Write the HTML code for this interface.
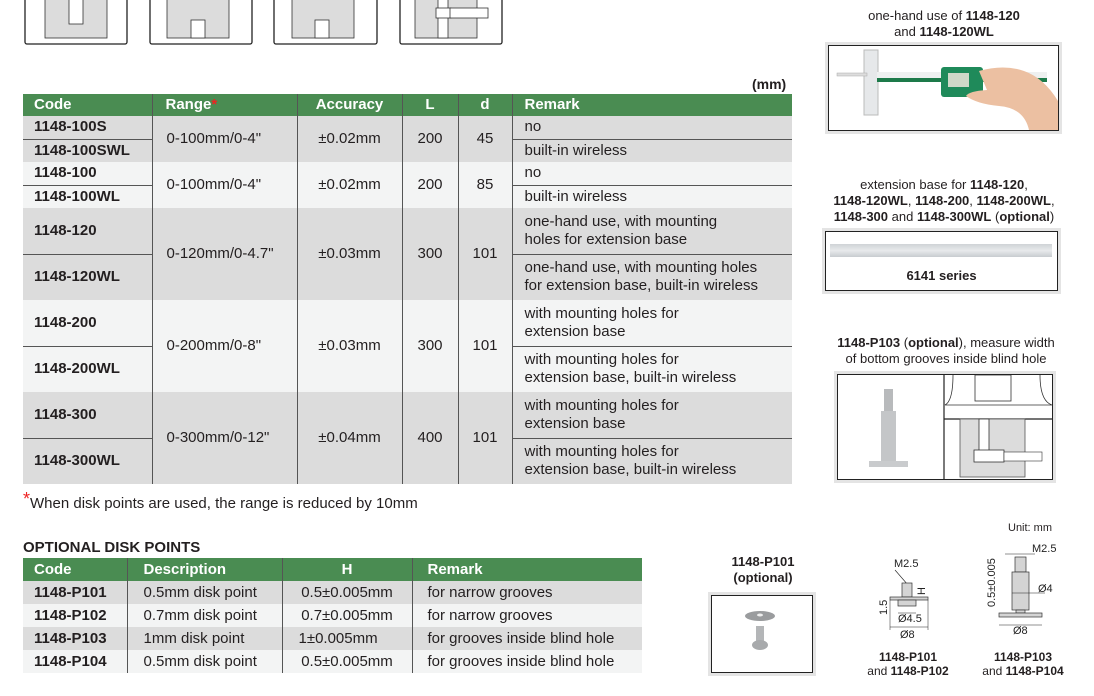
<!DOCTYPE html>
<html><head><meta charset="utf-8"><style>
body{margin:0;width:1094px;height:696px;background:#fff;position:relative;overflow:hidden;font-family:"Liberation Sans",Arial,sans-serif;color:#231f20}
.a{position:absolute}
table{border-collapse:collapse;position:absolute;table-layout:fixed}
td,th{padding:0;font-size:15px;line-height:18px}
th{background:#4a8c52;color:#fff;font-weight:bold;text-align:left}
.g td{background:#dcdcdc}.l td{background:#f3f4f4}
.vb{border-left:1.5px solid #555}
.sep td.s{border-top:1.5px solid #555}
.c{font-weight:bold;padding-left:11px}
.cen{text-align:center}
.box{position:absolute;border:1.5px solid #222;box-shadow:0 0 0 3px #e4e4e4;background:#fff}
.t{position:absolute;font-size:13px;text-align:center;line-height:16px}
</style></head><body>

<!-- top thumbnails -->
<svg class="a" style="left:0;top:0" width="520" height="50">
<g fill="#fff" stroke="#222" stroke-width="1.3">
<rect x="25" y="-5" width="102" height="49" rx="2"/><rect x="150" y="-5" width="102" height="49" rx="2"/><rect x="274" y="-5" width="103" height="49" rx="2"/><rect x="400" y="-5" width="102" height="49" rx="2"/></g>
<g fill="#dcdcdc" stroke="#333" stroke-width="0.8">
<rect x="45" y="-2" width="62" height="40"/><rect x="167" y="-2" width="62" height="40"/><rect x="292" y="-2" width="62" height="40"/><rect x="415" y="-2" width="62" height="40"/></g>
<g fill="#fff" stroke="#333" stroke-width="0.8">
<rect x="69" y="-2" width="14" height="26"/><rect x="191" y="20" width="14" height="18"/><rect x="315" y="20" width="14" height="18"/><rect x="438" y="-2" width="10" height="40"/><rect x="436" y="8" width="15" height="10"/><rect x="450" y="8" width="38" height="10"/></g>
</svg>

<div class="a" style="left:752px;top:76px;font-size:14px;font-weight:bold">(mm)</div>

<table style="left:23px;top:94px;width:769px">
<colgroup><col style="width:129px"><col style="width:145px"><col style="width:105px"><col style="width:56px"><col style="width:54px"><col style="width:280px"></colgroup>
<tr style="height:22px"><th style="padding-left:11px">Code</th><th class="vb" style="padding-left:13px">Range<span style="color:#e22">*</span></th><th class="vb cen">Accuracy</th><th class="vb cen">L</th><th class="vb cen">d</th><th class="vb" style="padding-left:12px">Remark</th></tr>
<tr class="g" style="height:23px"><td class="c">1148-100S</td><td class="vb" rowspan="2" style="padding-left:14px">0-100mm/0-4"</td><td class="vb cen" rowspan="2">±0.02mm</td><td class="vb cen" rowspan="2">200</td><td class="vb cen" rowspan="2">45</td><td class="vb" style="padding-left:12px">no</td></tr>
<tr class="g sep" style="height:23px"><td class="c s">1148-100SWL</td><td class="vb s" style="padding-left:12px">built-in wireless</td></tr>
<tr class="l" style="height:23px"><td class="c">1148-100</td><td class="vb" rowspan="2" style="padding-left:14px">0-100mm/0-4"</td><td class="vb cen" rowspan="2">±0.02mm</td><td class="vb cen" rowspan="2">200</td><td class="vb cen" rowspan="2">85</td><td class="vb" style="padding-left:12px">no</td></tr>
<tr class="l sep" style="height:23px"><td class="c s">1148-100WL</td><td class="vb s" style="padding-left:12px">built-in wireless</td></tr>
<tr class="g" style="height:46px"><td class="c">1148-120</td><td class="vb" rowspan="2" style="padding-left:14px">0-120mm/0-4.7"</td><td class="vb cen" rowspan="2">±0.03mm</td><td class="vb cen" rowspan="2">300</td><td class="vb cen" rowspan="2">101</td><td class="vb" style="padding-left:12px">one-hand use, with mounting<br>holes for extension base</td></tr>
<tr class="g sep" style="height:46px"><td class="c s">1148-120WL</td><td class="vb s" style="padding-left:12px">one-hand use, with mounting holes<br>for extension base, built-in wireless</td></tr>
<tr class="l" style="height:46px"><td class="c">1148-200</td><td class="vb" rowspan="2" style="padding-left:14px">0-200mm/0-8"</td><td class="vb cen" rowspan="2">±0.03mm</td><td class="vb cen" rowspan="2">300</td><td class="vb cen" rowspan="2">101</td><td class="vb" style="padding-left:12px">with mounting holes for<br>extension base</td></tr>
<tr class="l sep" style="height:46px"><td class="c s">1148-200WL</td><td class="vb s" style="padding-left:12px">with mounting holes for<br>extension base, built-in wireless</td></tr>
<tr class="g" style="height:46px"><td class="c">1148-300</td><td class="vb" rowspan="2" style="padding-left:14px">0-300mm/0-12"</td><td class="vb cen" rowspan="2">±0.04mm</td><td class="vb cen" rowspan="2">400</td><td class="vb cen" rowspan="2">101</td><td class="vb" style="padding-left:12px">with mounting holes for<br>extension base</td></tr>
<tr class="g sep" style="height:46px"><td class="c s">1148-300WL</td><td class="vb s" style="padding-left:12px">with mounting holes for<br>extension base, built-in wireless</td></tr>
</table>

<div class="a" style="left:23px;top:492px;font-size:15px"><span style="color:#e22;font-size:18px;position:relative;top:-3px">*</span>When disk points are used, the range is reduced by 10mm</div>
<div class="a" style="left:23px;top:539px;font-size:15px;font-weight:bold">OPTIONAL DISK POINTS</div>

<table style="left:23px;top:558px;width:619px">
<colgroup><col style="width:104px"><col style="width:155px"><col style="width:130px"><col style="width:230px"></colgroup>
<tr style="height:23px"><th style="padding-left:11px">Code</th><th class="vb" style="padding-left:16px">Description</th><th class="vb cen">H</th><th class="vb" style="padding-left:15px">Remark</th></tr>
<tr class="g" style="height:23px"><td class="c">1148-P101</td><td class="vb" style="padding-left:16px">0.5mm disk point</td><td class="vb cen">0.5±0.005mm</td><td class="vb" style="padding-left:15px">for narrow grooves</td></tr>
<tr class="l" style="height:23px"><td class="c">1148-P102</td><td class="vb" style="padding-left:16px">0.7mm disk point</td><td class="vb cen">0.7±0.005mm</td><td class="vb" style="padding-left:15px">for narrow grooves</td></tr>
<tr class="g" style="height:23px"><td class="c">1148-P103</td><td class="vb" style="padding-left:16px">1mm disk point</td><td class="vb" style="padding-left:16px">1±0.005mm</td><td class="vb" style="padding-left:15px">for grooves inside blind hole</td></tr>
<tr class="l" style="height:23px"><td class="c">1148-P104</td><td class="vb" style="padding-left:16px">0.5mm disk point</td><td class="vb cen">0.5±0.005mm</td><td class="vb" style="padding-left:15px">for grooves inside blind hole</td></tr>
</table>

<!-- right panels -->
<div class="t" style="left:826px;top:8px;width:236px">one-hand use of <b>1148-120</b><br>and <b>1148-120WL</b></div>
<div class="box" style="left:828px;top:45px;width:229px;height:84px">
<svg width="229" height="84">
<rect x="35" y="4" width="14" height="65" fill="#e6e8ea" stroke="#bbb"/>
<rect x="8" y="27" width="30" height="3" fill="#ddd" stroke="#aaa" stroke-width=".5"/>
<rect x="48" y="26" width="170" height="9" fill="#eef0f0"/>
<rect x="48" y="32" width="170" height="4" fill="#1d7a4a"/>
<rect x="112" y="21" width="42" height="30" rx="3" fill="#1f8a5a"/>
<rect x="119" y="27" width="21" height="14" fill="#cfd8c8"/>
<path d="M150 25 Q175 18 195 25 Q215 32 229 55 L229 84 L200 84 Q195 62 170 60 Q148 58 137 50 Q140 45 158 44 Z" fill="#ecc0a2"/>
</svg></div>

<div class="t" style="left:812px;top:177px;width:264px">extension base for <b>1148-120</b>,<br><b>1148-120WL</b>, <b>1148-200</b>, <b>1148-200WL</b>,<br><b>1148-300</b> and <b>1148-300WL</b> (<b>optional</b>)</div>
<div class="box" style="left:825px;top:231px;width:231px;height:58px">
<div class="a" style="left:4px;top:12px;width:222px;height:13px;background:linear-gradient(#cfd3d6,#e8eaec,#c8ccd0)"></div>
<div class="a" style="left:0;top:36px;width:231px;text-align:center;font-weight:bold;font-size:13px">6141 series</div></div>

<div class="t" style="left:818px;top:335px;width:256px"><b>1148-P103</b> (<b>optional</b>), measure width<br>of bottom grooves inside blind hole</div>
<div class="box" style="left:837px;top:374px;width:214px;height:104px">
<svg width="214" height="104">
<rect x="46" y="14" width="9" height="22" fill="#b8babc"/><rect x="43" y="36" width="15" height="50" fill="#c4c6c8"/><rect x="31" y="86" width="39" height="6" fill="#c9cbcd"/>
<line x1="106" y1="0" x2="106" y2="104" stroke="#222" stroke-width="1.2"/>
<line x1="106" y1="44" x2="214" y2="44" stroke="#222" stroke-width="1.2"/>
<rect x="122" y="44" width="65" height="58" fill="#dcdcdc" stroke="#555" stroke-width=".8"/>
<path d="M115 0 Q115 26 107 30 L214 30 Q202 26 202 0" fill="none" stroke="#333" stroke-width=".8"/>
<rect x="137" y="0" width="36" height="26" fill="#fff" stroke="#333" stroke-width=".8"/>
<rect x="141" y="44" width="10" height="40" fill="#fff" stroke="#333" stroke-width=".8"/>
<rect x="136" y="75" width="30" height="12" fill="#fff" stroke="#333" stroke-width=".8"/>
<rect x="166" y="77" width="38" height="9" fill="#fff" stroke="#333" stroke-width=".6"/>
</svg></div>

<!-- bottom right -->
<div class="t" style="left:713px;top:554px;width:100px;font-weight:bold">1148-P101<br>(optional)</div>
<div class="box" style="left:711px;top:595px;width:100px;height:76px">
<svg width="100" height="76"><ellipse cx="48" cy="20" rx="15" ry="5" fill="#9a9c9e"/><ellipse cx="48" cy="19" rx="3" ry="1.5" fill="#eee"/><rect x="44" y="30" width="8" height="17" fill="#b4b6b8"/><ellipse cx="48" cy="49" rx="8" ry="5" fill="#a8aaac"/></svg></div>

<div class="a" style="left:1008px;top:522px;font-size:11px">Unit: mm</div>
<svg class="a" style="left:860px;top:535px" width="230" height="120" font-family="Liberation Sans" font-size="11" fill="#222">
<!-- left diagram -->
<text x="34" y="32">M2.5</text>
<line x1="35" y1="35" x2="48" y2="50" stroke="#222" stroke-width=".6"/>
<rect x="42" y="48" width="10" height="14" fill="#d4d4d4" stroke="#333" stroke-width=".7"/>
<rect x="30" y="62" width="38" height="3" fill="#d4d4d4" stroke="#333" stroke-width=".7"/>
<rect x="38" y="65" width="18" height="6" fill="#d4d4d4" stroke="#333" stroke-width=".7"/>
<text x="57" y="58" transform="rotate(-90 62 55)">H</text>
<text x="20" y="87" transform="rotate(-90 20 80)">1.5</text>
<text x="38" y="87">Ø4.5</text>
<line x1="38" y1="78" x2="56" y2="78" stroke="#222" stroke-width=".6"/>
<line x1="30" y1="92" x2="68" y2="92" stroke="#222" stroke-width=".6"/>
<text x="40" y="103">Ø8</text>
<line x1="30" y1="65" x2="30" y2="95" stroke="#222" stroke-width=".5"/><line x1="68" y1="65" x2="68" y2="95" stroke="#222" stroke-width=".5"/>
<!-- right diagram -->
<text x="172" y="17">M2.5</text>
<line x1="145" y1="19" x2="175" y2="19" stroke="#222" stroke-width=".6"/>
<rect x="155" y="22" width="11" height="15" fill="#d4d4d4" stroke="#333" stroke-width=".7"/>
<rect x="152" y="37" width="17" height="38" fill="#d4d4d4" stroke="#333" stroke-width=".7"/>
<rect x="156" y="75" width="9" height="3" fill="#d4d4d4" stroke="#333" stroke-width=".7"/>
<rect x="139" y="78" width="43" height="4" fill="#d4d4d4" stroke="#333" stroke-width=".7"/>
<line x1="152" y1="58" x2="185" y2="58" stroke="#222" stroke-width=".6"/>
<text x="178" y="57">Ø4</text>
<text x="135" y="72" transform="rotate(-90 135 72)">0.5±0.005</text>
<line x1="139" y1="90" x2="182" y2="90" stroke="#222" stroke-width=".6"/>
<text x="153" y="99">Ø8</text>
</svg>
<div class="t" style="left:853px;top:650px;width:110px;font-size:12px;line-height:14px"><b>1148-P101</b><br>and <b>1148-P102</b></div>
<div class="t" style="left:968px;top:650px;width:110px;font-size:12px;line-height:14px"><b>1148-P103</b><br>and <b>1148-P104</b></div>
</body></html>
